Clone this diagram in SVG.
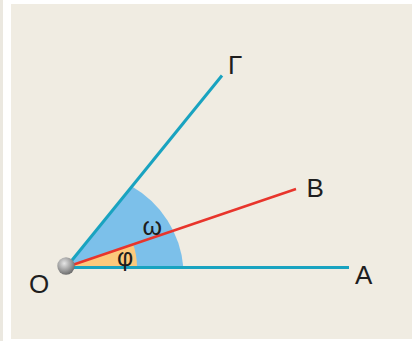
<svg xmlns="http://www.w3.org/2000/svg" width="419" height="341" viewBox="0 0 419 341">
  <defs>
    <radialGradient id="ball" cx="0.4" cy="0.35" r="0.65">
      <stop offset="0" stop-color="#e6e6e6"/>
      <stop offset="0.6" stop-color="#a0a0a0"/>
      <stop offset="1" stop-color="#6e6e6e"/>
    </radialGradient>
  </defs>
  <style>
    .lbl { font-family: "Liberation Sans", Arial, sans-serif; font-size: 26px; fill: #1e1e1e; }
    .ang { font-family: "Liberation Sans", Arial, sans-serif; font-size: 25px; fill: #1e1e1e; }
    .ray { stroke: #19a3c0; stroke-width: 3; fill: none; }
    .red { stroke: #e8352c; stroke-width: 2.5; fill: none; }
  </style>
  <rect x="0" y="0" width="419" height="341" fill="#ffffff"/>
  <rect x="0" y="0" width="3" height="341" fill="#ebe8e0"/>
  <rect x="11" y="4" width="401" height="335" fill="#f0ece2"/>

  <g id="sector-omega">
    <path d="M 66.5 267 L 183.3 267 A 103 103 0 0 0 132 186.5 Z" fill="#7cc0ea"/>
  </g>
  <g id="sector-phi">
    <path d="M 66.5 267 L 137 267 A 70.5 70.5 0 0 0 133.2 244.3 Z" fill="#fcc97c"/>
  </g>

  <g id="connectors">
    <line class="ray" x1="66.5" y1="267.5" x2="349" y2="267.5"/>
    <line class="ray" x1="66.5" y1="267" x2="222" y2="75.5"/>
    <line class="red" x1="66.5" y1="267" x2="296" y2="189"/>
  </g>

  <g id="O">
    <circle cx="66" cy="266" r="8.7" fill="url(#ball)"/>
    <text class="lbl" x="29" y="292.5">O</text>
  </g>
  <g id="A">
    <text class="lbl" x="355" y="284">A</text>
  </g>
  <g id="B">
    <text class="lbl" x="306.5" y="197">B</text>
  </g>
  <g id="Gamma">
    <text class="lbl" x="228" y="74">Γ</text>
  </g>
  <g id="omega">
    <text class="ang" x="142.5" y="235">ω</text>
  </g>
  <g id="phi">
    <text class="ang" x="117" y="266">φ</text>
  </g>
</svg>
